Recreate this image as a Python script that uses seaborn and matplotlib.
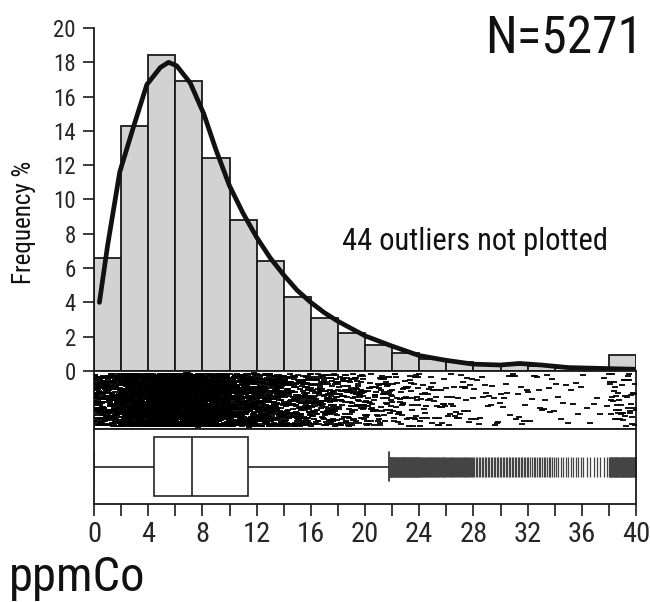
import numpy as np
import pandas as pd
import seaborn as sns
import matplotlib
matplotlib.use("Agg")
import matplotlib.pyplot as plt
from matplotlib import font_manager as fm
from matplotlib.ticker import MultipleLocator

# ---------------- data ----------------
n_total = 5271
n_outliers_not_plotted = 44
bin_edges = [0, 2, 4, 6, 8, 10, 12, 14, 16, 18, 20, 22, 24, 26, 28, 30, 32, 34, 36, 38, 40]
freq_pct = [6.6, 14.3, 18.4, 16.9, 12.4, 8.8, 6.4, 4.3, 3.1, 2.2,
            1.5, 1.07, 0.7, 0.55, 0.35, 0.35, 0.3, 0.2, 0.15, 0.95]
curve_x = [0.4, 1.0, 1.9, 2.9, 3.9, 4.9, 5.5, 6.1, 7.1, 8.1, 9.0, 10.0, 11.0, 12.0,
           13.0, 14.0, 15.0, 16.0, 17.0, 18.0, 20.0, 22.0, 24.0, 26.0, 28.0, 30.0,
           31.4, 33.0, 35.0, 37.5, 40.0]
curve_y = [4.0, 7.3, 11.6, 14.2, 16.7, 17.7, 18.0, 17.8, 16.8, 15.0, 12.9, 10.8, 9.2, 7.8,
           6.6, 5.6, 4.7, 4.0, 3.4, 2.9, 2.05, 1.45, 0.9, 0.62, 0.4, 0.35,
           0.44, 0.35, 0.2, 0.15, 0.1]
y_ticks = list(range(0, 21, 2))

# ---------------- fonts ----------------
sns.set_theme(style="white")
avail = {f.name for f in fm.fontManager.ttflist}
prefs = ["Nimbus Sans Narrow", "Liberation Sans Narrow", "Arial Narrow", "Roboto Condensed",
         "Archivo Narrow", "Pragati Narrow", "PT Sans Narrow", "IBM Plex Sans Condensed",
         "Fira Sans Condensed", "Encode Sans Condensed", "Liberation Sans"]
narrow = next((f for f in prefs if f in avail), "DejaVu Sans")
plt.rcParams["font.family"] = [narrow, "DejaVu Sans"]

# reconstruct individual values from the histogram counts (spread evenly inside bins)
centers = [(bin_edges[i] + bin_edges[i + 1]) / 2 for i in range(len(freq_pct))]
values = []
for i, p in enumerate(freq_pct):
    n = int(round(p / 100 * n_total))
    values.extend(bin_edges[i] + (np.arange(n) + 0.5) / n * 2.0)
df = pd.DataFrame({"ppmCo": np.array(values)})

W, H = 650, 602
fig = plt.figure(figsize=(W / 100, H / 100), dpi=100)
fig.patch.set_facecolor("white")

def rect(left, top, right, bottom):
    return [left / W, (H - bottom) / H, (right - left) / W, (bottom - top) / H]

ax_hist = fig.add_axes(rect(94, 28, 636, 371))
ax_strip = fig.add_axes(rect(94, 371, 636, 429))
ax_box = fig.add_axes(rect(94, 429, 636, 504))

dark = "#1a1a1a"

# ---------------- histogram + curve ----------------
sns.histplot(x=centers, weights=freq_pct, bins=bin_edges, ax=ax_hist,
             color="#d2d2d2", edgecolor=dark, linewidth=1.3, alpha=1.0)
sns.lineplot(x=curve_x, y=curve_y, ax=ax_hist, color="#111111", linewidth=3.4)
ax_hist.set_xlim(0, 40)
ax_hist.set_ylim(0, 20)
ax_hist.set_yticks(y_ticks)
ax_hist.set_xticks([])
ax_hist.set_xlabel("")
ax_hist.set_ylabel("")
for s in ["top", "right"]:
    ax_hist.spines[s].set_visible(False)
for s in ["left", "bottom"]:
    ax_hist.spines[s].set_color(dark)
    ax_hist.spines[s].set_linewidth(1.3)
ax_hist.tick_params(axis="y", direction="out", length=8, width=1.2, color=dark,
                    labelsize=16.5, pad=5, left=True)
ax_hist.patch.set_alpha(0)

# ---------------- strip (jittered dashes) ----------------
np.random.seed(3)
sns.stripplot(data=df, x="ppmCo", ax=ax_strip, orient="h", jitter=0.43,
              marker="_", color="black", size=4.0, linewidth=1.3)
ax_strip.set_xlim(0, 40)
ax_strip.set_ylim(0.47, -0.47)
ax_strip.set_xticks([])
ax_strip.set_yticks([])
ax_strip.set_xlabel("")
ax_strip.set_ylabel("")
for s in ax_strip.spines.values():
    s.set_visible(True)
    s.set_color(dark)
    s.set_linewidth(1.3)

# ---------------- boxplot ----------------
sns.boxplot(data=df, x="ppmCo", ax=ax_box, orient="h", width=0.78, whis=1.5,
            color="white", linecolor="#222222", linewidth=1.2,
            flierprops=dict(marker="|", markersize=15, markeredgecolor="#444444",
                            markeredgewidth=0.9))
ax_box.set_xlim(0, 40)
ax_box.set_ylim(0.5, -0.5)
ax_box.set_yticks([])
ax_box.set_ylabel("")
ax_box.set_xlabel("")
ax_box.xaxis.set_major_locator(MultipleLocator(4))
ax_box.xaxis.set_minor_locator(MultipleLocator(2))
ax_box.tick_params(axis="x", which="both", direction="out", length=8.5, width=1.2,
                   color=dark, bottom=True)
ax_box.tick_params(axis="x", which="major", labelsize=20.5, pad=4)
for s in ax_box.spines.values():
    s.set_visible(True)
    s.set_color(dark)
    s.set_linewidth(1.3)

# ---------------- texts ----------------
fig.text(643 / W, (H - 53) / H, f"N={n_total}", ha="right", va="baseline",
         fontsize=37, color="#111111")
fig.text(342 / W, (H - 250) / H, f"{n_outliers_not_plotted} outliers not plotted",
         ha="left", va="baseline", fontsize=22, color="#111111")
fig.text(24 / W, (H - 222) / H, "Frequency %", rotation=90, ha="center", va="center",
         fontsize=18, color="#111111")
fig.text(9 / W, (H - 591) / H, "ppmCo", ha="left", va="baseline", fontsize=35,
         color="#111111")

fig.savefig("out.png", dpi=100, facecolor="white")
